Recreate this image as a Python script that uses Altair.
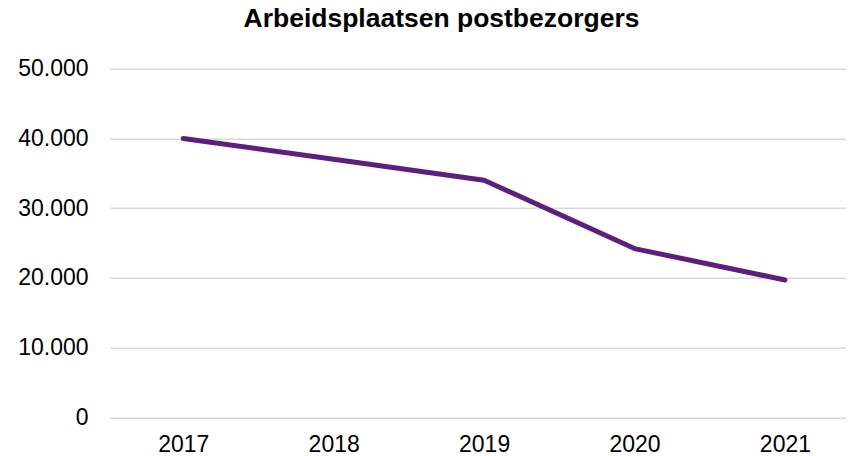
import altair as alt
import pandas as pd

years = [2017, 2018, 2019, 2020, 2021]
jobs = [40000, 37000, 34000, 24200, 19700]
y_ticks = [0, 10000, 20000, 30000, 40000, 50000]
title_text = "Arbeidsplaatsen postbezorgers"

df = pd.DataFrame({"jaar": years, "arbeidsplaatsen": jobs})

FONT = "Liberation Sans"

chart = alt.Chart(df).mark_line(
    color="#5d1f7c", strokeWidth=5, strokeCap="round", strokeJoin="round"
).encode(
    x=alt.X("jaar:Q",
            scale=alt.Scale(domain=[2016.513, 2021.406], nice=False, zero=False),
            axis=alt.Axis(values=years, format="d", title=None, grid=False,
                          domain=False, ticks=False, tickSize=0,
                          labelPadding=16.5, labelFontSize=23, labelFont=FONT,
                          labelColor="#000000", labelFlush=False)),
    y=alt.Y("arbeidsplaatsen:Q",
            scale=alt.Scale(domain=[0, 50000], nice=False),
            axis=alt.Axis(values=y_ticks, title=None, domain=False, ticks=False,
                          tickSize=0, labelPadding=22, labelFontSize=23,
                          labelFont=FONT, labelColor="#000000",
                          labelExpr="replace(format(datum.value, ',d'), ',', '.')",
                          gridColor="#d9d9d9", gridWidth=1.5)),
).properties(
    width=736,
    height=348.6,
    title=alt.TitleParams(title_text, font=FONT, fontSize=26.5, fontWeight="bold",
                          color="#000000", anchor="middle", frame="group",
                          dx=-36.5, offset=25.5),
    autosize=alt.AutoSizeParams(type="none"),
    padding={"left": 102, "top": 60.7, "right": 0, "bottom": 37},
).configure_view(stroke=None)

chart.save("out.html", embed_options={"renderer": "svg", "actions": False})
